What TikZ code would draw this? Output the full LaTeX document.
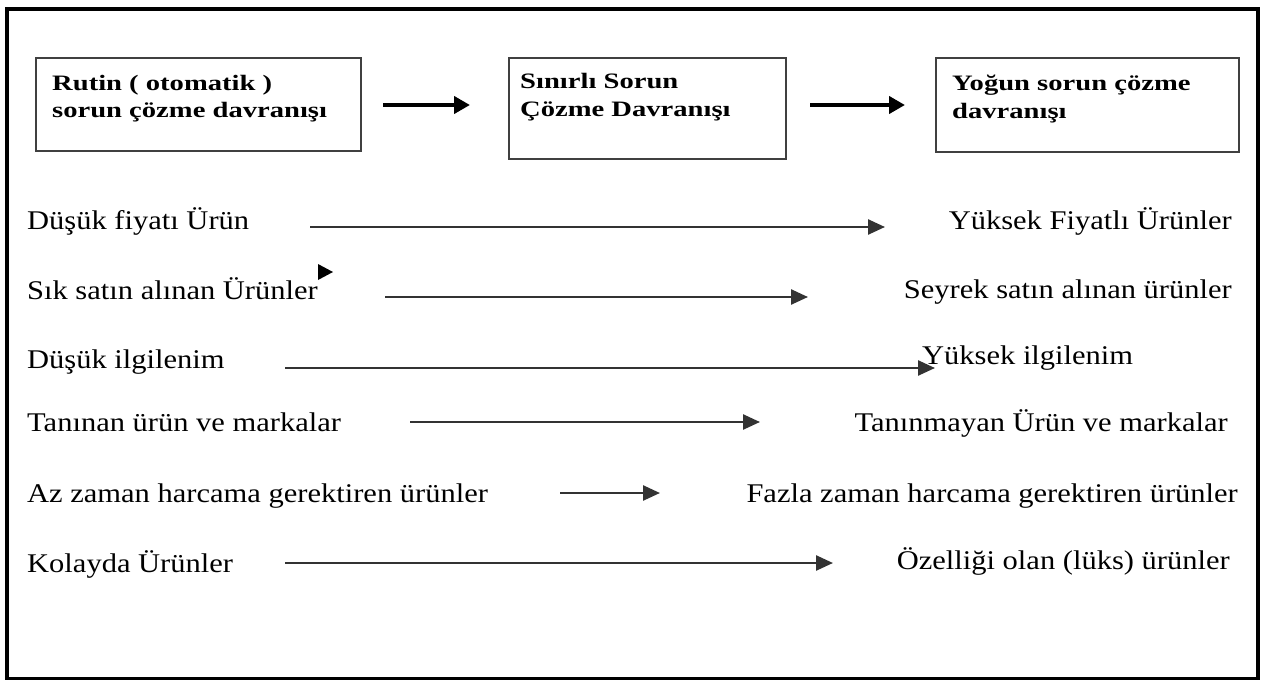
\documentclass[tikz,border=0pt]{standalone}
\usepackage{fontspec}
\setmainfont{Liberation Serif}
\newfontfamily\rowfont[FakeStretch=1.13]{Liberation Serif}
\newfontfamily\boxfont[FakeStretch=1.3]{Liberation Serif}
\usetikzlibrary{arrows.meta}
\begin{document}
\begin{tikzpicture}[x=1pt,y=-1pt,
  rowtext/.style={inner sep=0pt, font=\rowfont\fontsize{27}{32}\selectfont},
  boxtext/.style={inner sep=0pt, anchor=base west, font=\boxfont\bfseries\fontsize{22}{26}\selectfont},
  stepbox/.style={draw=black!75, line width=1.8pt, anchor=north west, inner sep=0pt},
  rowarrow/.style={draw=black!80, line width=2.5pt, -{Triangle[length=17pt,width=15pt]}},
  toparrow/.style={draw=black, line width=4.5pt, -{Triangle[length=16pt,width=17pt]}}]
\useasboundingbox (0,0) rectangle (1264,680);
\fill[white] (0,0) rectangle (1264,680);
% outer frame
\draw[line width=3.5pt] (7,9) rectangle (1258,679);

% top boxes
\node[stepbox, minimum width=325pt, minimum height=93pt] (b1) at (35,57) {};
\node[stepbox, minimum width=277pt, minimum height=101pt] (b2) at (508,57) {};
\node[stepbox, minimum width=303pt, minimum height=94pt] (b3) at (935,57) {};

\node[boxtext] (t1a) at (52,90) {Rutin ( otomatik )};
\node[boxtext] (t1b) at (52,117) {sorun çözme davranışı};
\node[boxtext] (t2a) at (520,88) {Sınırlı Sorun};
\node[boxtext] (t2b) at (520,116) {Çözme Davranışı};
\node[boxtext] (t3a) at (952,90) {Yoğun sorun çözme};
\node[boxtext] (t3b) at (952,118) {davranışı};

\coordinate (p1s) at (383,105);
\coordinate (p1e) at (470,105);
\coordinate (p2s) at (810,105);
\coordinate (p2e) at (905,105);
\draw[toparrow] (p1s) -- (p1e);
\draw[toparrow] (p2s) -- (p2e);

% rows: left texts
\node[rowtext, anchor=base west] (l1) at (27,229) {Düşük fiyatı Ürün};
\node[rowtext, anchor=base west] (l2) at (27,299) {Sık satın alınan Ürünler};
\node[rowtext, anchor=base west] (l3) at (27,368) {Düşük ilgilenim};
\node[rowtext, anchor=base west] (l4) at (27,431) {Tanınan ürün ve markalar};
\node[rowtext, anchor=base west] (l5) at (27,502) {Az zaman harcama gerektiren ürünler};
\node[rowtext, anchor=base west] (l6) at (27,572) {Kolayda Ürünler};

% rows: right texts
\node[rowtext, anchor=base east] (r1) at (1232,229) {Yüksek Fiyatlı Ürünler};
\node[rowtext, anchor=base east] (r2) at (1232,298) {Seyrek satın alınan ürünler};
\node[rowtext, anchor=base west] (r3) at (922,364) {Yüksek ilgilenim};
\node[rowtext, anchor=base east] (r4) at (1228,431) {Tanınmayan Ürün ve markalar};
\node[rowtext, anchor=base east] (r5) at (1238,502) {Fazla zaman harcama gerektiren ürünler};
\node[rowtext, anchor=base east] (r6) at (1230,569) {Özelliği olan (lüks) ürünler};

% row arrows
\coordinate (a1s) at (310,227); \coordinate (a1e) at (885,227);
\coordinate (a2s) at (385,297); \coordinate (a2e) at (808,297);
\coordinate (a3s) at (285,368); \coordinate (a3e) at (935,368);
\coordinate (a4s) at (410,422); \coordinate (a4e) at (760,422);
\coordinate (a5s) at (560,493); \coordinate (a5e) at (660,493);
\coordinate (a6s) at (285,563); \coordinate (a6e) at (833,563);
\draw[rowarrow] (a1s) -- (a1e);
\draw[rowarrow] (a2s) -- (a2e);
\draw[rowarrow] (a3s) -- (a3e);
\draw[rowarrow] (a4s) -- (a4e);
\draw[rowarrow] (a5s) -- (a5e);
\draw[rowarrow] (a6s) -- (a6e);

% stray arrowhead
\fill (318,264) -- (333,272) -- (318,280) -- cycle;
\end{tikzpicture}
\end{document}
